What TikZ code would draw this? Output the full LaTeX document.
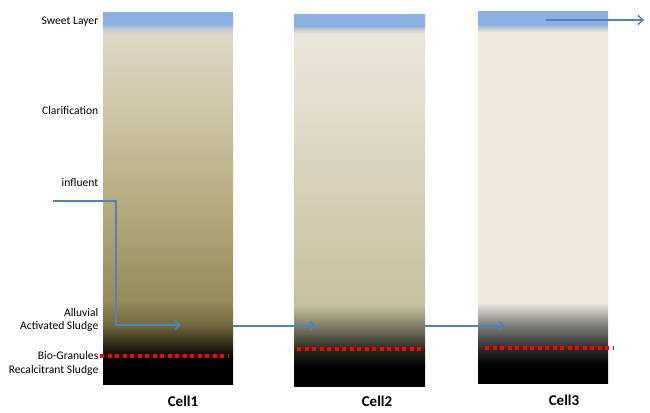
\documentclass[tikz,border=0pt]{standalone}
\usepackage{fontspec}
\setmainfont{Carlito}
\usetikzlibrary{arrows.meta}
% colours
\definecolor{skyb}{RGB}{140,176,226}
\definecolor{skyt}{RGB}{192,202,212}
\definecolor{oa}{RGB}{222,216,196}
\definecolor{ob}{RGB}{205,198,168}
\definecolor{oc}{RGB}{182,172,128}
\definecolor{od}{RGB}{150,140,90}
\definecolor{oe}{RGB}{112,104,62}
\definecolor{of}{RGB}{45,42,22}
\definecolor{ta}{RGB}{234,232,220}
\definecolor{tb}{RGB}{212,207,180}
\definecolor{tc}{RGB}{197,192,157}
\definecolor{td}{RGB}{130,128,105}
\definecolor{te}{RGB}{45,45,35}
\definecolor{ua}{RGB}{236,233,223}
\definecolor{ub}{RGB}{125,125,122}
\definecolor{uc}{RGB}{45,45,45}
\definecolor{flowblue}{RGB}{79,129,189}
\definecolor{dotred}{RGB}{255,0,0}
\pgfdeclareverticalshading{cellone}{100bp}{color(0bp)=(black); color(25bp)=(black); color(28.5bp)=(black); color(30.26bp)=(of); color(32.95bp)=(oe); color(36.32bp)=(od); color(49.8bp)=(oc); color(61.93bp)=(ob); color(72.04bp)=(oa); color(72.84bp)=(skyt); color(73.52bp)=(skyb); color(75bp)=(skyb); color(100bp)=(skyb)}
\pgfdeclareverticalshading{celltwo}{100bp}{color(0bp)=(black); color(25bp)=(black); color(27.7bp)=(black); color(30.12bp)=(te); color(33.22bp)=(td); color(35.92bp)=(tc); color(50.07bp)=(tb); color(72.44bp)=(ta); color(73.11bp)=(skyt); color(73.52bp)=(skyb); color(75bp)=(skyb); color(100bp)=(skyb)}
\pgfdeclareverticalshading{cellthree}{100bp}{color(0bp)=(black); color(25bp)=(black); color(27.43bp)=(black); color(29.72bp)=(uc); color(32.82bp)=(ub); color(35.78bp)=(ua); color(72.3bp)=(ua); color(72.84bp)=(skyt); color(73.38bp)=(skyb); color(75bp)=(skyb); color(100bp)=(skyb)}
\begin{document}
\begin{tikzpicture}[x=1pt,y=-1pt,
  cellbox/.style={shade, inner sep=0pt, outer sep=0pt, minimum width=130pt, minimum height=371pt},
  lab/.style={anchor=base east, inner sep=0pt, font=\fontsize{11.6}{13}\selectfont},
  celllab/.style={anchor=base, inner sep=0pt, font=\fontsize{15}{18}\selectfont\bfseries},
  flow/.style={draw=flowblue, line width=1.4pt, -{Straight Barb[length=5pt,width=9pt,line width=1.4pt]}},
  reddots/.style={draw=dotred, line width=3.5pt, dash pattern=on 4pt off 3.5pt}]
\useasboundingbox (0,0) rectangle (650,412);
% cells
\node[cellbox, shading=cellone] (c1) at (168,198.5) {};
\node[cellbox, shading=celltwo, minimum width=131pt] (c2) at (359.5,200.5) {};
\node[cellbox, shading=cellthree] (c3) at (543,197.5) {};
% red dotted lines
\coordinate (r1a) at (100,356); \coordinate (r1b) at (229,356);
\coordinate (r2a) at (297,349); \coordinate (r2b) at (424,349);
\coordinate (r3a) at (485,348); \coordinate (r3b) at (613,348);
\draw[reddots] (r1a) -- (r1b);
\draw[reddots] (r2a) -- (r2b);
\draw[reddots] (r3a) -- (r3b);
% flow arrows
\coordinate (inf) at (53,201);
\coordinate (k1) at (116,201);
\coordinate (k2) at (116,325);
\coordinate (e1) at (181,325);
\coordinate (s2) at (233,326);
\coordinate (e2) at (316,326);
\coordinate (s3) at (425,326);
\coordinate (e3) at (505,326);
\coordinate (s4) at (546,20);
\coordinate (e4) at (644,20);
\draw[flow] (inf) -- (k1) -- (k2) -- (e1);
\draw[flow] (s2) -- (e2);
\draw[flow] (s3) -- (e3);
\draw[flow] (s4) -- (e4);
% labels
\node[lab] (l1) at (98.5,25) {Sweet Layer};
\node[lab] (l2) at (98.5,114) {Clarification};
\node[lab] (l3) at (98.5,186.5) {influent};
\node[lab] (l4) at (98.5,316) {Alluvial};
\node[lab] (l5) at (98.5,329.5) {Activated Sludge};
\node[lab] (l6) at (98.5,359.5) {Bio-Granules};
\node[lab] (l7) at (98.5,373.5) {Recalcitrant Sludge};
\node[celllab] (n1) at (183,406.5) {Cell1};
\node[celllab] (n2) at (377,406) {Cell2};
\node[celllab] (n3) at (564,405) {Cell3};
\end{tikzpicture}
\end{document}
